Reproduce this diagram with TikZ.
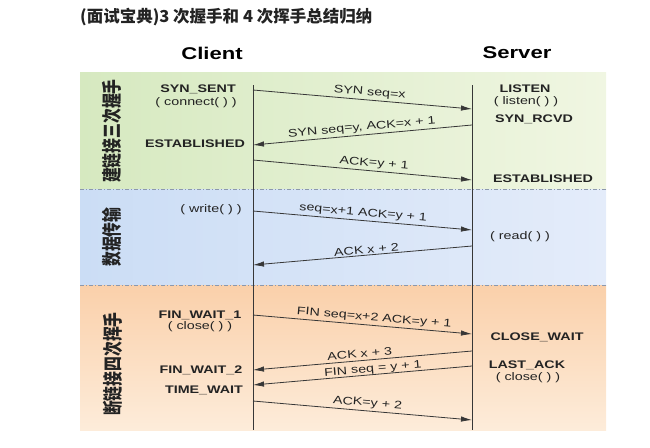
\documentclass[tikz,border=0pt]{standalone}
\usepackage{fontspec}
\setmainfont{Liberation Sans}[FakeStretch=1.3]
\newfontfamily\cjk{Noto Sans CJK SC}
\newfontfamily\cjkside{Noto Sans CJK SC}[FakeStretch=0.74]
\usetikzlibrary{arrows.meta}
\definecolor{greenL}{RGB}{214,233,192}
\definecolor{greenR}{RGB}{240,246,226}
\definecolor{blueL}{RGB}{203,221,245}
\definecolor{blueR}{RGB}{228,236,250}
\definecolor{orangeT}{RGB}{250,208,170}
\definecolor{orangeB}{RGB}{253,236,218}
\definecolor{linegray}{RGB}{55,55,55}
\definecolor{sepgray}{RGB}{140,152,172}
\definecolor{txtgray}{RGB}{35,35,35}
\begin{document}
\begin{tikzpicture}[x=1pt, y=-1pt,
    msg/.style={draw=linegray, line width=0.8pt, -{Latex[length=11pt,width=5.5pt]}},
    lbl/.style={sloped, above, inner sep=2pt, text=txtgray, font=\fontsize{11}{12}\selectfont},
    state/.style={inner sep=0pt, text=txtgray, font=\fontsize{11}{12}\selectfont\bfseries},
    call/.style={inner sep=0pt, text=txtgray, font=\fontsize{11}{12}\selectfont},
    phase/.style={rotate=90, inner sep=0pt, text=txtgray, font=\cjkside\bfseries\fontsize{20}{20}\selectfont},
    sep/.style={draw=sepgray, line width=0.8pt, dash pattern=on 4pt off 2pt on 1pt off 2pt}]
    \useasboundingbox (0,0) rectangle (650,447);

    % Title and heads
    \node[anchor=west, inner sep=0pt, text=txtgray, font=\cjk\bfseries\fontsize{16.5}{16.5}\selectfont] (title) at (80,17) {(面试宝典)3 次握手和 4 次挥手总结归纳};
    \node[inner sep=0pt, font=\fontsize{17}{17}\selectfont\bfseries] (client) at (212,53) {Client};
    \node[inner sep=0pt, font=\fontsize{17}{17}\selectfont\bfseries] (server) at (517,53) {Server};

    % Phase bands
    \shade[left color=greenL, right color=greenR] (80,72) rectangle (606,189);
    \shade[left color=blueL, right color=blueR] (80,189) rectangle (606,285);
    \shade[top color=orangeT, bottom color=orangeB] (80,285) rectangle (606,430);
    \draw[sep] (80,189) -- (606,189);
    \draw[sep] (80,285) -- (606,285);

    \node[phase] (open) at (112,131) {建链接三次握手};
    \node[phase] (data) at (112,237) {数据传输};
    \node[phase] (shut) at (113,364) {断链接四次挥手};

    % Lifelines
    \coordinate (ctop) at (253,85);
    \coordinate (cbot) at (253,430);
    \coordinate (stop) at (472,85);
    \coordinate (sbot) at (472,430);
    \draw[linegray, line width=0.8pt] (ctop) -- (cbot);
    \draw[linegray, line width=0.8pt] (stop) -- (sbot);

    % Ends of the messages
    \foreach \n/\yc/\ys in {1/90/109, 2/145/125, 3/160/180, 4/211/230, 5/265/246,
                            6/315/334, 7/370/351, 8/385/366, 9/401/420} {
        \coordinate (c\n) at (253,\yc);
        \coordinate (s\n) at (472,\ys);
    }

    % Client states
    \node[state] (synsent) at (198,89) {SYN\_SENT};
    \node[call] (connect) at (196,103) {( connect( ) )};
    \node[state] (cestab) at (195,144) {ESTABLISHED};
    \node[call] (write) at (211,210) {( write( ) )};
    \node[state] (finone) at (200,315) {FIN\_WAIT\_1};
    \node[call] (cclose) at (200,327) {( close( ) )};
    \node[state] (fintwo) at (201,370) {FIN\_WAIT\_2};
    \node[state] (timewait) at (204,390) {TIME\_WAIT};

    % Server states
    \node[state] (listen) at (525,89) {LISTEN};
    \node[call] (plisten) at (526,102) {( listen( ) )};
    \node[state] (synrcvd) at (534,119) {SYN\_RCVD};
    \node[state] (sestab) at (543,179) {ESTABLISHED};
    \node[call] (read) at (520,237) {( read( ) )};
    \node[state] (closewait) at (537,337) {CLOSE\_WAIT};
    \node[state] (lastack) at (527,365) {LAST\_ACK};
    \node[call] (sclose) at (528,378) {( close( ) )};

    % Messages
    \draw[msg] (c1) -- node[lbl, pos=0.53] {SYN seq=x} (s1);
    \draw[msg] (s2) -- node[lbl] {SYN seq=y, ACK=x + 1} (c2);
    \draw[msg] (c3) -- node[lbl, pos=0.55] {ACK=y + 1} (s3);
    \draw[msg] (c4) -- node[lbl] {seq=x+1 ACK=y + 1} (s4);
    \draw[msg] (s5) -- node[lbl, pos=0.48, inner sep=1pt] {ACK x + 2} (c5);
    \draw[msg] (c6) -- node[lbl, pos=0.55] {FIN seq=x+2 ACK=y + 1} (s6);
    \draw[msg] (s7) -- node[lbl, pos=0.51, inner sep=3pt] {ACK x + 3} (c7);
    \draw[msg] (s8) -- node[lbl, pos=0.45, inner sep=0pt] {FIN seq = y + 1} (c8);
    \draw[msg] (c9) -- node[lbl, pos=0.52] {ACK=y + 2} (s9);
\end{tikzpicture}
\end{document}
